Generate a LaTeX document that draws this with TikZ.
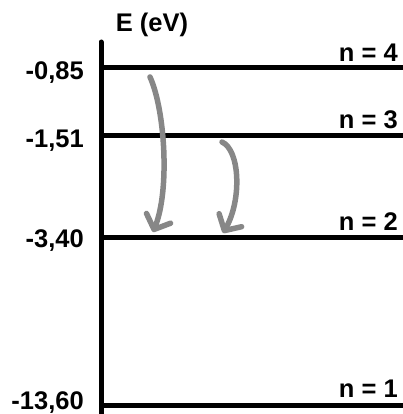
\documentclass[tikz,border=0pt]{standalone}
\usepackage{fontspec}
\newfontfamily\labfont{Liberation Sans}
\usetikzlibrary{arrows.meta}
\begin{document}
\begin{tikzpicture}[x=1pt,y=-1pt,
  level/.style={line width=5pt},
  axisline/.style={line width=5pt,line cap=round},
  lab/.style={font=\labfont\bfseries\fontsize{25.5}{25.5}\selectfont,inner sep=0pt},
  trans/.style={draw=black!47,line width=5.5pt,line cap=round,
    -{Straight Barb[length=12pt,width=26pt,round,line width=5.5pt]}}]
\useasboundingbox (0,0) rectangle (403,414);
% axis
\coordinate (atop) at (101,42);
\coordinate (abot) at (101,420);
\draw[axisline] (atop) -- (abot);
% levels
\coordinate (l4a) at (101,68);  \coordinate (l4b) at (403,68);
\coordinate (l3a) at (101,136); \coordinate (l3b) at (403,136);
\coordinate (l2a) at (101,237); \coordinate (l2b) at (403,237);
\coordinate (l1a) at (101,405); \coordinate (l1b) at (403,405);
\draw[level] (l4a) -- (l4b);
\draw[level] (l3a) -- (l3b);
\draw[level] (l2a) -- (l2b);
\draw[level] (l1a) -- (l1b);
% labels
\node[lab,anchor=base] (E) at (152,32) {E (eV)};
\node[lab,anchor=base east] (e4) at (84,80) {-0,85};
\node[lab,anchor=base east] (e3) at (84,147) {-1,51};
\node[lab,anchor=base east] (e2) at (84,247) {-3,40};
\node[lab,anchor=base east] (e1) at (84,409) {-13,60};
\node[lab,anchor=base east] (n4) at (398,62) {n = 4};
\node[lab,anchor=base east] (n3) at (398,129) {n = 3};
\node[lab,anchor=base east] (n2) at (398,230) {n = 2};
\node[lab,anchor=base east] (n1) at (398,397) {n = 1};
% transitions
\coordinate (s1) at (150,77);  \coordinate (t1) at (153,232);
\coordinate (s2) at (222,142); \coordinate (t2) at (223,233);
\draw[trans] (s1) .. controls (165,110) and (170,190) .. (t1);
\draw[trans] (s2) .. controls (240,150) and (242,200) .. (t2);
\end{tikzpicture}
\end{document}
